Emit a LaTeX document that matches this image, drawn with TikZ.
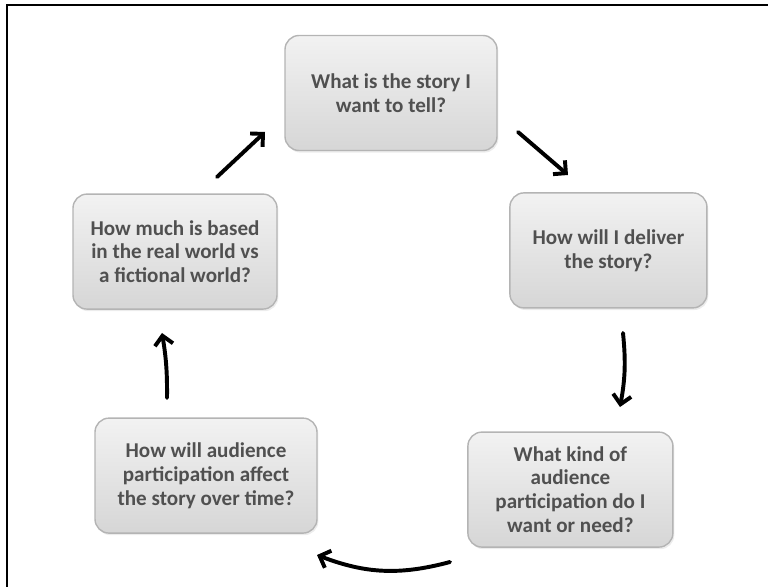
\documentclass[tikz,border=0pt]{standalone}
\usepackage{fontspec}
\setmainfont{Carlito}
\usetikzlibrary{arrows.meta, shadows}
\definecolor{boxtop}{HTML}{F2F2F2}
\definecolor{boxbot}{HTML}{D6D6D6}
\definecolor{boxline}{HTML}{B4B4B4}
\definecolor{qtext}{HTML}{505050}
\tikzstyle{question} = [rectangle, rounded corners=10pt, minimum height=2.875cm, text centered, align=center, draw=boxline, line width=1pt, top color=boxtop, bottom color=boxbot, text=qtext, font=\bfseries\fontsize{15}{17}\selectfont, drop shadow={opacity=0.15, shadow xshift=1pt, shadow yshift=-1.5pt}]
\tikzstyle{arrow} = [line width=2.8pt, -{Straight Barb[length=6.5pt, width=13pt]}, line cap=round]

\begin{document}
\begin{tikzpicture}
	\useasboundingbox (0,0) rectangle (19.2,-14.675);
	\draw [line width=1.4pt] (0.175,-14.8) -- (0.175,-0.125) -- (19.4,-0.125);
	\node (story) [question, minimum width=5.3cm] at (9.775,-2.325) {What is the story I\\want to tell?};
	\node (deliver) [question, minimum width=4.925cm] at (15.21,-6.26) {How will I deliver\\the story?};
	\node (kind) [question, minimum width=5.125cm] at (14.26,-12.24) {What kind of\\audience\\participation do I\\want or need?};
	\node (affect) [question, minimum width=5.55cm] at (5.15,-11.89) {How will audience\\participation affect\\the story over time?};
	\node (real) [question, minimum width=5.1cm] at (4.375,-6.29) {How much is based\\in the real world vs\\a fictional world?};
	% arrow ends
	\coordinate (a1) at (12.95,-3.3);
	\coordinate (b1) at (14.2,-4.375);
	\coordinate (a2) at (15.575,-8.325);
	\coordinate (b2) at (15.5,-10.175);
	\coordinate (a3) at (11.25,-14.05);
	\coordinate (b3) at (7.925,-13.875);
	\coordinate (a4) at (4.175,-9.95);
	\coordinate (b4) at (4.05,-8.325);
	\coordinate (a5) at (5.425,-4.425);
	\coordinate (b5) at (6.625,-3.3);
	\draw [arrow] (a1) -- (b1);
	\draw [arrow] (a2) to [bend left=8] (b2);
	\draw [arrow] (a3) to [bend left=18] (b3);
	\draw [arrow] (a4) to [bend right=5] (b4);
	\draw [arrow] (a5) -- (b5);
\end{tikzpicture}
\end{document}
